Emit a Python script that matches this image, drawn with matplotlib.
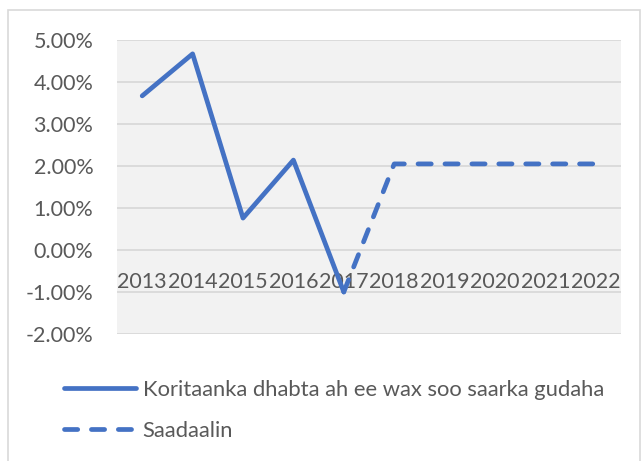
import matplotlib.pyplot as plt
from matplotlib.patches import Rectangle

plt.rcParams['font.family'] = ['Lato', 'DejaVu Sans']

nam = ['2013', '2014', '2015', '2016', '2017', '2018', '2019', '2020', '2021', '2022']
koritaan = [3.67, 4.67, 0.76, 2.14, -1.00]
saadaal_nam = ['2017', '2018', '2019', '2020', '2021', '2022']
saadaal = [-1.00, 2.05, 2.05, 2.05, 2.05, 2.05]
ticks_y = [-2, -1, 0, 1, 2, 3, 4, 5]

buluug = '#4472c4'
qoraal = '#595959'

W, H = 643, 461
fig = plt.figure(figsize=(W / 100, H / 100), dpi=100)
fig.patches.append(Rectangle((8 / W, -0.05), (640 - 8) / W, 1.05 - 10 / H,
                             transform=fig.transFigure, fill=False,
                             edgecolor='#d9d9d9', linewidth=1.2))

ax = fig.add_axes([117 / W, 1 - 334 / H, (621 - 117) / W, (334 - 40) / H])
ax.set_facecolor('#f2f2f2')
for s in ax.spines.values():
    s.set_visible(False)

x1 = [nam.index(n) for n in nam[:len(koritaan)]]
x2 = [nam.index(n) for n in saadaal_nam]
ax.plot(x1, koritaan, color=buluug, lw=3.4, solid_capstyle='round',
        solid_joinstyle='round', zorder=5,
        label='Koritaanka dhabta ah ee wax soo saarka gudaha')
ax.plot(x2, saadaal, color=buluug, lw=3.4, dashes=(2.8, 2.9),
        dash_capstyle='round', zorder=5, label='Saadaalin')

ax.set_xlim(-0.5, len(nam) - 0.5)
ax.set_ylim(-2, 5)
ax.set_yticks(ticks_y)
ax.set_yticklabels([f'{t:.2f}%' for t in ticks_y])
ax.set_xticks([])
ax.tick_params(axis='y', length=0, pad=17, labelsize=15.5, labelcolor=qoraal)
ax.grid(axis='y', color='#d9d9d9', lw=1.3)
ax.set_axisbelow(True)

for i, n in enumerate(nam):
    ax.annotate(n, (i, 0), xytext=(0, -16), textcoords='offset points',
                ha='center', va='top', fontsize=15.5, color=qoraal, zorder=3)

fig.legend(loc='upper left', bbox_to_anchor=(44 / W, 1 - 360 / H),
           frameon=False, handlelength=3.3, handletextpad=0.3,
           labelspacing=0.95, fontsize=15.8, labelcolor=qoraal)

fig.savefig('out.png', dpi=100)
